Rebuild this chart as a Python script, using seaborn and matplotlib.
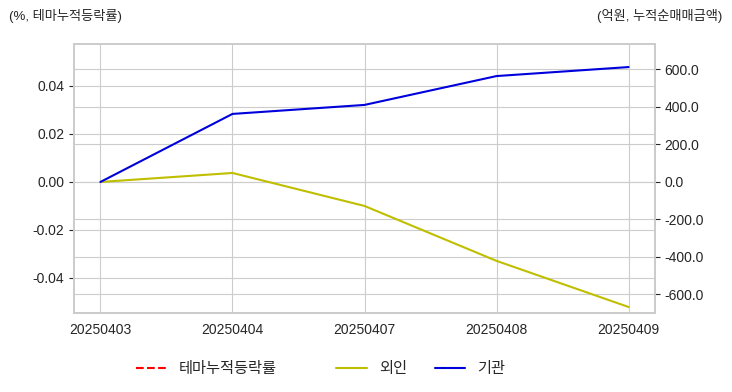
import numpy as np
import pandas as pd
import matplotlib
matplotlib.use("Agg")
import matplotlib.pyplot as plt
from matplotlib.ticker import FormatStrFormatter
from matplotlib.lines import Line2D
import seaborn as sns

dates = ["20250403", "20250404", "20250407", "20250408", "20250409"]
theme_return = [np.nan, np.nan, np.nan, np.nan, np.nan]
foreign = [0.0, 48.0, -128.0, -421.0, -667.0]
institution = [0.0, 363.0, 411.0, 565.0, 613.0]

sns.set_style("whitegrid")
plt.rcParams["font.family"] = ["Liberation Sans", "Noto Sans CJK KR", "DejaVu Sans"]
plt.rcParams["axes.unicode_minus"] = False

fig = plt.figure(figsize=(7.32, 3.92), dpi=100)
ax = fig.add_axes([74/732, 1-313/392, (655-74)/732, (313-44)/392])
ax2 = ax.twinx()

pos = np.arange(len(dates))
df = pd.DataFrame({"x": pos, "theme": theme_return, "foreign": foreign, "inst": institution})

ax.plot(df["x"], df["theme"], color="red", linestyle="--", linewidth=1.5)
sns.lineplot(data=df, x="x", y="foreign", ax=ax2, color="#bfbf00", linewidth=1.5)
sns.lineplot(data=df, x="x", y="inst", ax=ax2, color="#0000dd", linewidth=1.5)

ax.set_xlim(-0.2, len(dates) - 0.8)
ax.set_xticks(pos)
ax.set_xticklabels(dates)
ax.set_ylim(-0.0546, 0.0575)
ax2.set_ylim(-699, 736)
ax2.yaxis.set_major_formatter(FormatStrFormatter("%.1f"))
ax.set_xlabel("")
ax.set_ylabel("")
ax2.set_xlabel("")
ax2.set_ylabel("")
for a in (ax, ax2):
    a.tick_params(labelsize=10, colors=".15")
    for s in a.spines.values():
        s.set_color(".8")
        s.set_linewidth(1.25)

fig.text(9/732, 1-16/392, "(%, 테마누적등락률)", ha="left", va="center", fontsize=9.5, color=".15")
fig.text(722/732, 1-16/392, "(억원, 누적순매매금액)", ha="right", va="center", fontsize=9.5, color=".15")

h1 = [Line2D([], [], color="red", linestyle="--", linewidth=1.5)]
h2 = [Line2D([], [], color="#bfbf00", linewidth=1.5), Line2D([], [], color="#0000dd", linewidth=1.5)]
fig.legend(h1, ["테마누적등락률"], loc="center", bbox_to_anchor=(206/732, 1-369/392),
           frameon=False, fontsize=11)
fig.legend(h2, ["외인", "기관"], loc="center", bbox_to_anchor=(421/732, 1-369/392),
           ncol=2, frameon=False, fontsize=11, columnspacing=1.8)

fig.savefig("out.png", dpi=100)
